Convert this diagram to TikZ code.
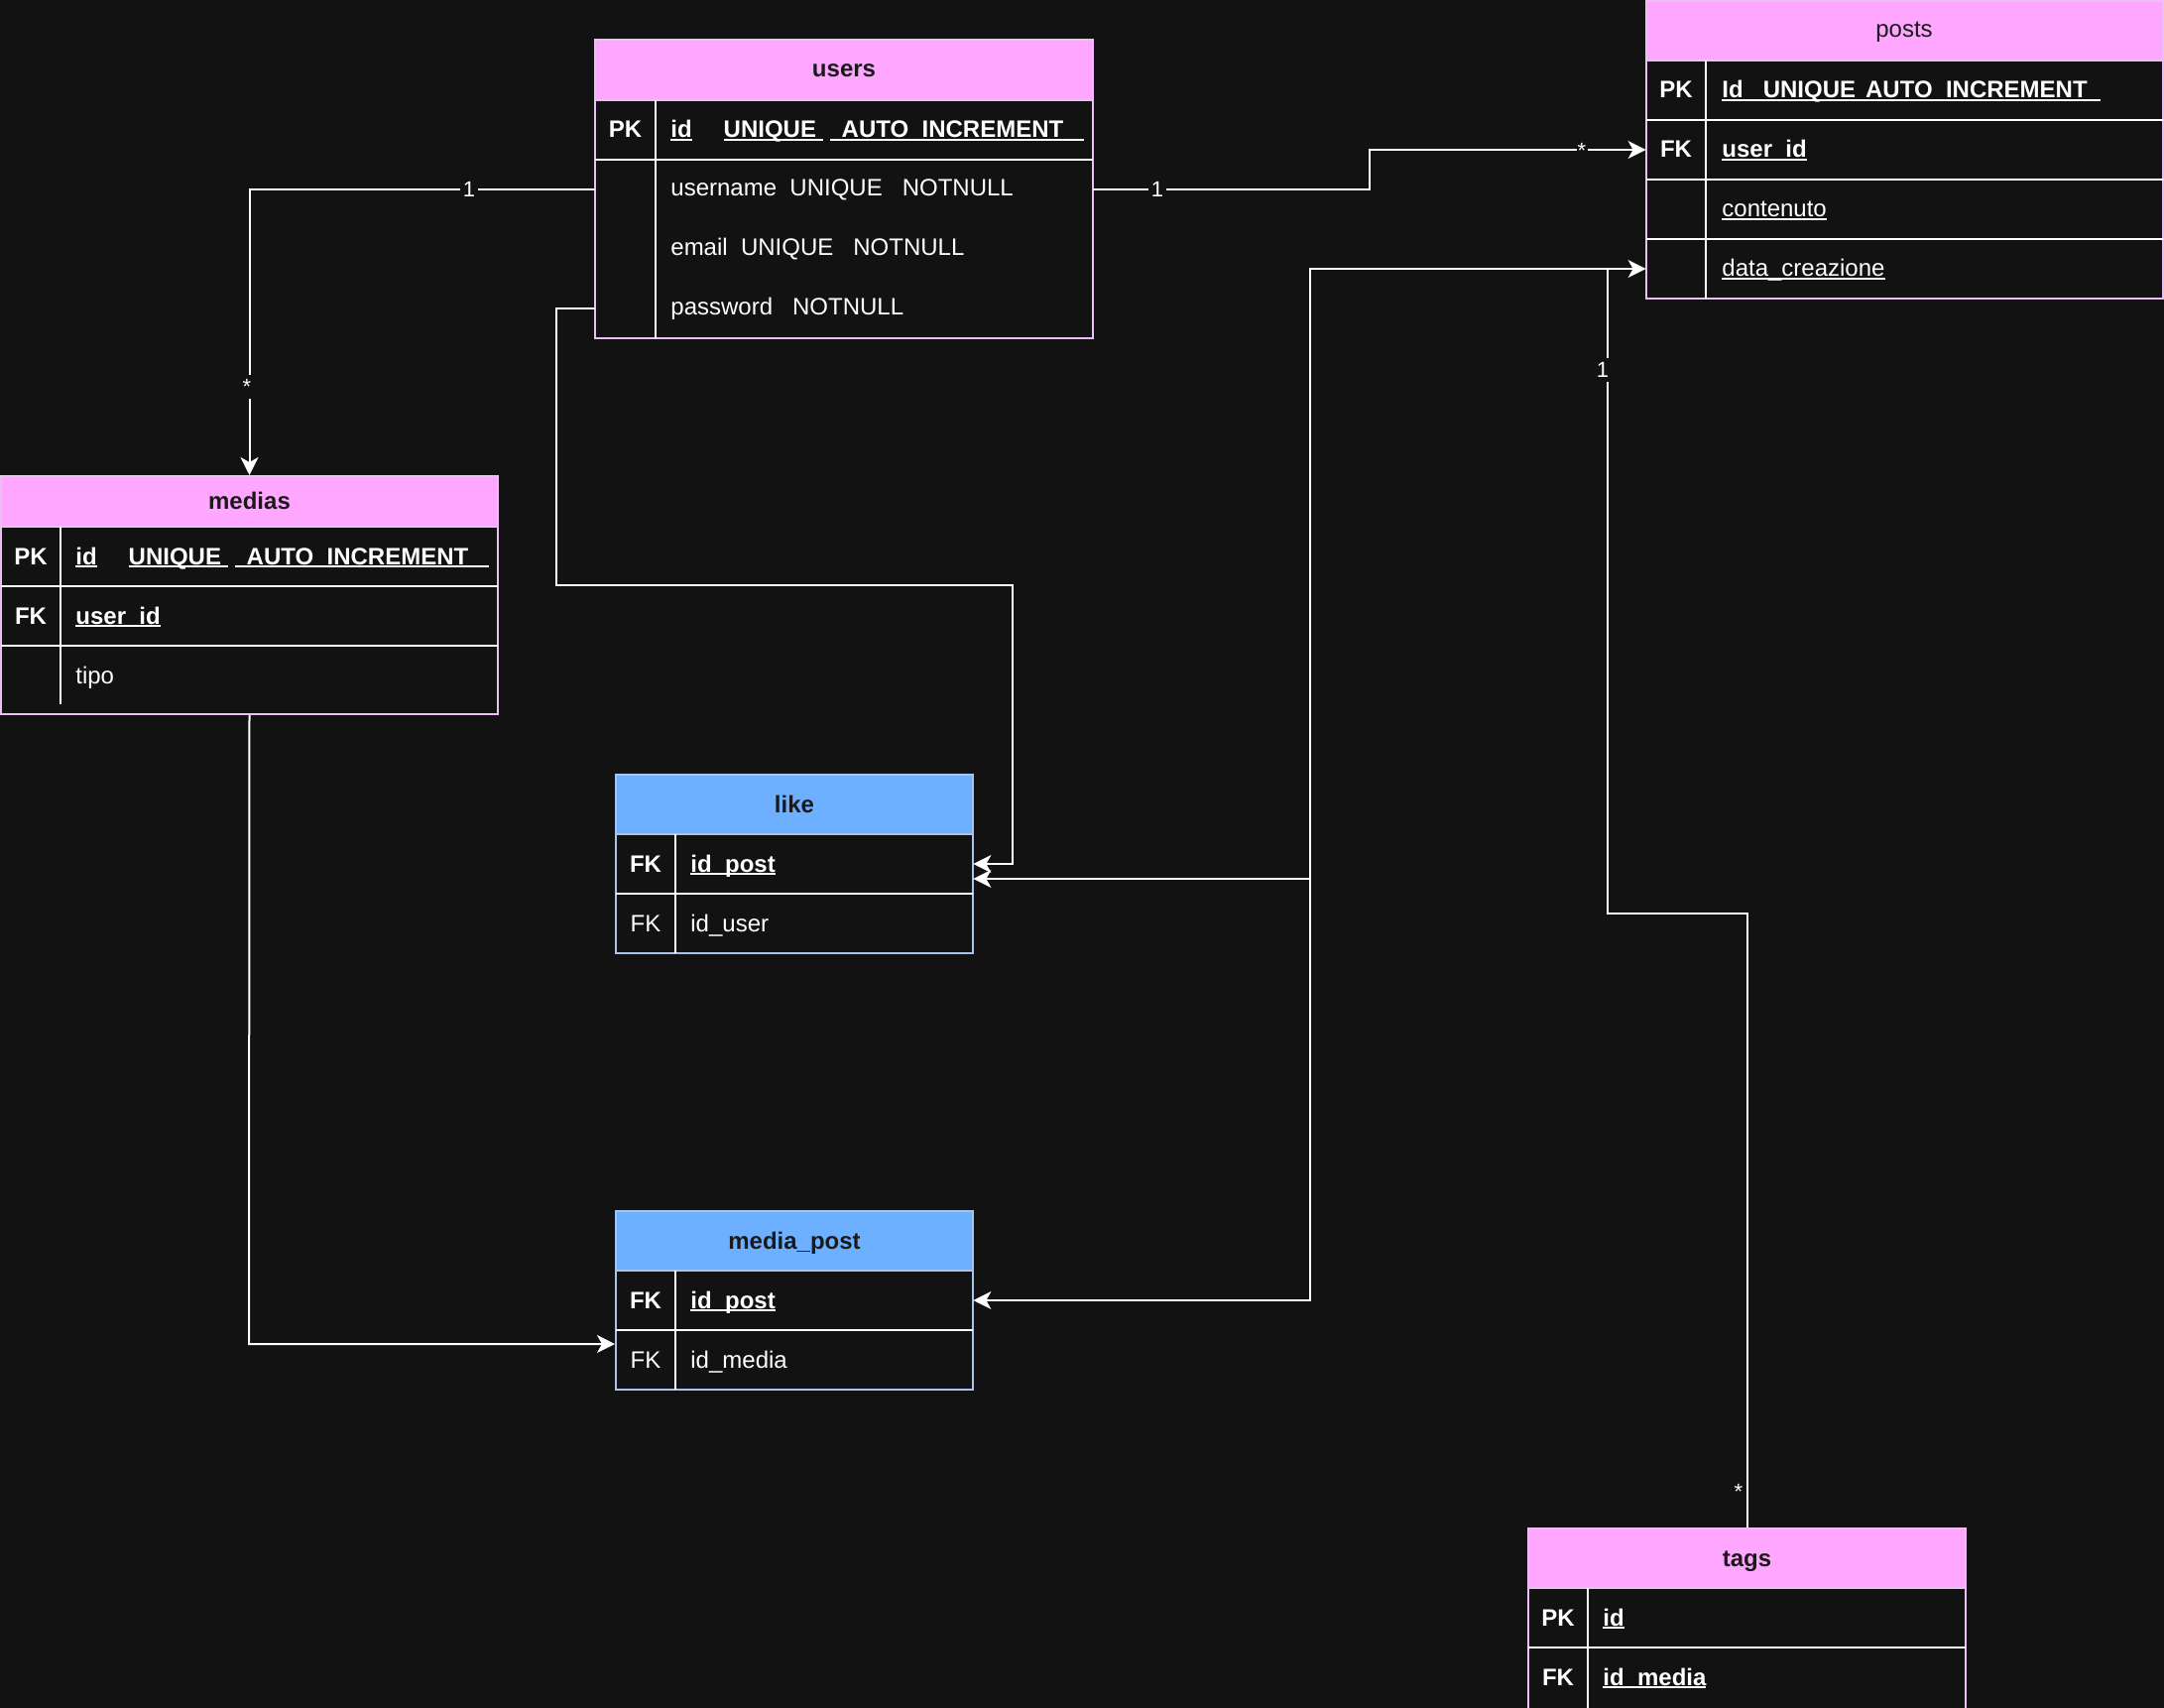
\documentclass[tikz,border=0pt]{standalone}
\usepackage{fontspec}
\setmainfont{Liberation Sans}
\usetikzlibrary{arrows.meta,fit}
\definecolor{bg}{HTML}{121212}
\definecolor{pinkhd}{HTML}{FFA6FF}
\definecolor{pinkbd}{HTML}{EBBEF5}
\definecolor{bluehd}{HTML}{6CB0FF}
\definecolor{bluebd}{HTML}{A9C4EB}
\definecolor{hdtext}{HTML}{1A1A1A}
\newcommand\ulx[1]{\setbox0\hbox{#1}\rlap{\rule[-1.5pt]{\wd0}{0.9pt}}\box0}
\tikzset{
 tblpink/.style={draw=pinkbd, fill=bg, line width=1pt, inner sep=0pt},
 tblblue/.style={draw=bluebd, fill=bg, line width=1pt, inner sep=0pt},
 hdpink/.style={draw=pinkbd, fill=pinkhd, line width=1pt, inner sep=0pt},
 hdblue/.style={draw=bluebd, fill=bluehd, line width=1pt, inner sep=0pt},
 rowbox/.style={inner sep=0pt},
 rowline/.style={draw=white, line width=1pt},
 htxt/.style={anchor=base, text=hdtext, inner sep=0pt, font=\fontsize{12pt}{14pt}\selectfont\bfseries},
 ktxt/.style={anchor=base, text=white, inner sep=0pt, font=\fontsize{12pt}{14pt}\selectfont},
 ftxt/.style={anchor=base west, text=white, inner sep=0pt, font=\fontsize{12pt}{14pt}\selectfont},
 conn/.style={draw=white, line width=1pt},
 arr/.style={-{Stealth[length=9pt,width=9pt,inset=2.5pt]}},
 arrboth/.style={{Stealth[length=9pt,width=9pt,inset=2.5pt]}-{Stealth[length=9pt,width=9pt,inset=2.5pt]}},
 card/.style={text=white, fill=bg, inner sep=1.5pt, font=\fontsize{11pt}{13pt}\selectfont},
}
\begin{document}
\begin{tikzpicture}[x=0.5pt,y=-0.5pt]
\useasboundingbox (0,0) rectangle (2182,1722);
\fill[bg] (0,0) rectangle (2182,1722);

% ---------- users ----------
\node[fit={(600,40)(1102,341)}, tblpink] (users) {};
\node[fit={(600,40)(1102,101)}, hdpink] (users-h) {};
\node[fit={(600,101)(1102,161)}, rowbox] (users-pk) {};
\node[fit={(600,161)(1102,221)}, rowbox] (users-r1) {};
\node[fit={(600,221)(1102,281)}, rowbox] (users-r2) {};
\node[fit={(600,281)(1102,341)}, rowbox] (users-r3) {};
\draw[rowline] (600,161) -- (1102,161);
\draw[rowline] (661,101) -- (661,341);
\node[htxt] at (851,78) {users};
\node[ktxt, font=\fontsize{12pt}{14pt}\selectfont\bfseries] at (630.5,139) {PK};
\node[ftxt, font=\fontsize{12pt}{14pt}\selectfont\bfseries] at (676,139) {\ulx{id}\hspace{16pt}\ulx{UNIQUE\ }\hspace{3.5pt}\ulx{\hspace{6pt}AUTO\_INCREMENT\hspace{10.5pt}}};
\node[ftxt] at (676,198) {username\ \ UNIQUE\ \ \ NOTNULL};
\node[ftxt] at (676,258) {email\ \ UNIQUE\ \ \ NOTNULL};
\node[ftxt] at (676,318) {password\ \ \ NOTNULL};

% ---------- posts ----------
\node[fit={(1660,1)(2181,301)}, tblpink] (posts) {};
\node[fit={(1660,1)(2181,61)}, hdpink] (posts-h) {};
\node[fit={(1660,61)(2181,121)}, rowbox] (posts-pk) {};
\node[fit={(1660,121)(2181,181)}, rowbox] (posts-r2) {};
\node[fit={(1660,181)(2181,241)}, rowbox] (posts-r3) {};
\node[fit={(1660,241)(2181,301)}, rowbox] (posts-r4) {};
\draw[rowline] (1660,121) -- (2181,121);
\draw[rowline] (1660,181) -- (2181,181);
\draw[rowline] (1660,241) -- (2181,241);
\draw[rowline] (1720,61) -- (1720,301);
\node[htxt, font=\fontsize{12pt}{14pt}\selectfont] at (1920,38) {posts};
\node[ktxt, font=\fontsize{12pt}{14pt}\selectfont\bfseries] at (1690,99) {PK};
\node[ktxt, font=\fontsize{12pt}{14pt}\selectfont\bfseries] at (1690,159) {FK};
\node[ftxt, font=\fontsize{12pt}{14pt}\selectfont\bfseries] at (1736,99) {\ulx{Id\ \ \ UNIQUE\hspace{5pt}AUTO\_INCREMENT\ \ }};
\node[ftxt, font=\fontsize{12pt}{14pt}\selectfont\bfseries] at (1736,159) {\ulx{user\_id}};
\node[ftxt] at (1736,219) {\ulx{contenuto}};
\node[ftxt] at (1736,279) {\ulx{data\_creazione}};

% ---------- medias ----------
\node[fit={(1,480)(502,720)}, tblpink] (medias) {};
\node[fit={(1,480)(502,531)}, hdpink] (medias-h) {};
\node[fit={(1,531)(502,591)}, rowbox] (medias-pk) {};
\node[fit={(1,591)(502,651)}, rowbox] (medias-fk) {};
\node[fit={(1,651)(502,711)}, rowbox] (medias-r3) {};
\draw[rowline] (1,591) -- (502,591);
\draw[rowline] (1,651) -- (502,651);
\draw[rowline] (61,531) -- (61,710);
\node[htxt] at (251.5,513) {medias};
\node[ktxt, font=\fontsize{12pt}{14pt}\selectfont\bfseries] at (31,569) {PK};
\node[ktxt, font=\fontsize{12pt}{14pt}\selectfont\bfseries] at (31,629) {FK};
\node[ftxt, font=\fontsize{12pt}{14pt}\selectfont\bfseries] at (76,569) {\ulx{id}\hspace{16pt}\ulx{UNIQUE\ }\hspace{3.5pt}\ulx{\hspace{6pt}AUTO\_INCREMENT\hspace{10.5pt}}};
\node[ftxt, font=\fontsize{12pt}{14pt}\selectfont\bfseries] at (76,629) {\ulx{user\_id}};
\node[ftxt] at (76,689) {tipo};

% ---------- like ----------
\node[fit={(621,781)(981,961)}, tblblue] (like) {};
\node[fit={(621,781)(981,841)}, hdblue] (like-h) {};
\node[fit={(621,841)(981,901)}, rowbox] (like-r1) {};
\node[fit={(621,901)(981,961)}, rowbox] (like-r2) {};
\draw[rowline] (621,901) -- (981,901);
\draw[rowline] (681,841) -- (681,961);
\node[htxt] at (801,819) {like};
\node[ktxt, font=\fontsize{12pt}{14pt}\selectfont\bfseries] at (651,879) {FK};
\node[ktxt] at (651,939) {FK};
\node[ftxt, font=\fontsize{12pt}{14pt}\selectfont\bfseries] at (696,879) {\ulx{id\_post}};
\node[ftxt] at (696,939) {id\_user};

% ---------- media_post ----------
\node[fit={(621,1221)(981,1401)}, tblblue] (mp) {};
\node[fit={(621,1221)(981,1281)}, hdblue] (mp-h) {};
\node[fit={(621,1281)(981,1341)}, rowbox] (mp-r1) {};
\node[fit={(621,1341)(981,1401)}, rowbox] (mp-r2) {};
\draw[rowline] (621,1341) -- (981,1341);
\draw[rowline] (681,1281) -- (681,1401);
\node[htxt] at (801,1259) {media\_post};
\node[ktxt, font=\fontsize{12pt}{14pt}\selectfont\bfseries] at (651,1319) {FK};
\node[ktxt] at (651,1379) {FK};
\node[ftxt, font=\fontsize{12pt}{14pt}\selectfont\bfseries] at (696,1319) {\ulx{id\_post}};
\node[ftxt] at (696,1379) {id\_media};

% ---------- tags ----------
\node[fit={(1541,1541)(1982,1740)}, tblpink] (tags) {};
\node[fit={(1541,1541)(1982,1601)}, hdpink] (tags-h) {};
\node[fit={(1541,1601)(1982,1661)}, rowbox] (tags-pk) {};
\node[fit={(1541,1661)(1982,1721)}, rowbox] (tags-fk) {};
\draw[rowline] (1541,1661) -- (1982,1661);
\draw[rowline] (1601,1601) -- (1601,1740);
\node[htxt] at (1761.5,1579) {tags};
\node[ktxt, font=\fontsize{12pt}{14pt}\selectfont\bfseries] at (1571,1639) {PK};
\node[ktxt, font=\fontsize{12pt}{14pt}\selectfont\bfseries] at (1571,1699) {FK};
\node[ftxt, font=\fontsize{12pt}{14pt}\selectfont\bfseries] at (1616,1639) {\ulx{id}};
\node[ftxt, font=\fontsize{12pt}{14pt}\selectfont\bfseries] at (1616,1699) {\ulx{id\_media}};

% ---------- connectors ----------
\coordinate (jb) at (1381,191);
\coordinate (c1) at (561,590);
\coordinate (c2) at (1021,590);
\coordinate (d1) at (1321,271);
\coordinate (d2) at (1321,886);
\coordinate (t0) at (1621,272);
\coordinate (t1) at (1621,921);
\coordinate (m1) at (251,1355);

% users -> medias
\draw[conn, arr] (users-r1.west) -| (medias.north);
\node[card] at (473,191) {1};
\node[card, inner sep=2pt] at (249,390) {*};

% users -> posts
\draw[conn, arr] (users-r1.east) -- (jb) |- (posts-r2.west);
\node[card] at (1167,191) {1};
\node[card, inner sep=0.6pt] at (1595,152) {*};

% users -> like
\draw[conn, arr] (users-r3.west) -| (c1) -- (c2) |- (like-r1.east);

% posts <-> media_post
\draw[conn, arrboth] (mp-r1.east) -| (d1) -- (posts-r4.west);
% posts -> like
\draw[conn, arr] (d2) -- (like-r1.east |- d2);

% medias -> media_post
\draw[conn, arr] (medias.south) -- (m1) -- (mp.west |- m1);

% posts -> tags
\draw[conn] (t0) -- (t1) -| (tags.north);
\node[card, inner sep=2pt] at (1616,373) {1};
\node[text=white, inner sep=0pt, font=\fontsize{11pt}{13pt}\selectfont] at (1753,1504) {*};
\end{tikzpicture}
\end{document}
